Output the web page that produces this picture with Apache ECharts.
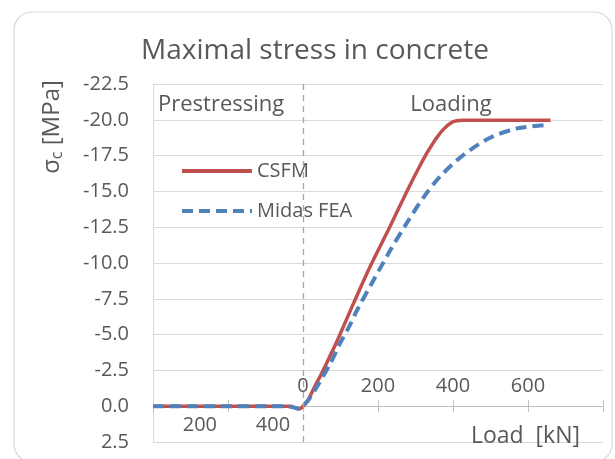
<!DOCTYPE html>
<html>
<head>
<meta charset="utf-8">
<script src="https://cdn.jsdelivr.net/npm/echarts@6/dist/echarts.min.js"></script>
<style>
  html, body { margin: 0; padding: 0; background: #ffffff; }
  #chart { width: 615px; height: 459px; }
</style>
</head>
<body>
<div id="chart"></div>
<script>
// Load axis: prestressing stage to the left of 0, loading stage to the right (kN)
const loadMin = -400;
const loadMax = 800;
const loadStep = 200;
const loadTickValues = [0, 200, 400, 600];
const loadTickLabels = ['0', '200', '400', '600'];

// Prestressing force labels written under the axis, left of the stage divider
const prestressLabelText = ['200', '400'];
const prestressLabelAt = [-275, -80];

// Stress axis (MPa, compression negative, drawn upward)
const stressMin = -22.5;
const stressMax = 2.5;
const stressStep = 2.5;

// CSFM results: [load, stress]
const csfmLoad = [-400, -40, -25, -12, -4, 0, 15, 30, 50, 70, 90, 110, 135, 180, 233, 277, 310, 331, 355, 375, 395, 410, 425, 660];
const csfmStress = [0, 0, 0.08, 0.18, 0.12, 0, -0.5, -1.3, -2.3, -3.4, -4.5, -5.7, -7.2, -9.8, -12.6, -15.0, -16.7, -17.7, -18.7, -19.35, -19.8, -19.93, -19.97, -19.97];

// Midas FEA results: [load, stress]
const midasLoad = [-400, -40, -25, -12, -4, 0, 15, 37, 73, 99, 122, 144, 188, 233, 277, 322, 366, 428, 499, 571, 642];
const midasStress = [0, 0, 0.08, 0.18, 0.12, 0, -0.45, -1.35, -3.0, -4.4, -5.5, -6.7, -8.8, -10.9, -12.8, -14.6, -16.05, -17.55, -18.75, -19.4, -19.62];

const pairs = (xs, ys) => xs.map((x, i) => [x, ys[i]]);

const FONT = 'Open Sans';
const TXT = '#595959';
const GRID_C = '#d9d9d9';
const AXIS_C = '#bfbfbf';
const RED = '#C0504D';
const BLUE = '#4F81BD';

const chart = echarts.init(document.getElementById('chart'), null, { renderer: 'canvas' });

const baseGraphics = [
  {
    type: 'rect',
    shape: { x: 14, y: 12, width: 598, height: 450, r: 18 },
    style: { fill: null, stroke: '#d9d9d9', lineWidth: 1.2 },
    silent: true,
    z: -10
  },
  {
    type: 'text',
    x: 315, y: 51,
    style: { text: 'Maximal stress in concrete', fontFamily: FONT, fontSize: 28, fill: TXT, textAlign: 'center', textVerticalAlign: 'middle' }
  },
  {
    type: 'text',
    x: 158, y: 105,
    style: { text: 'Prestressing', fontFamily: FONT, fontSize: 22, fill: TXT, textAlign: 'left', textVerticalAlign: 'middle' }
  },
  {
    type: 'text',
    x: 451, y: 105,
    style: { text: 'Loading', fontFamily: FONT, fontSize: 22, fill: TXT, textAlign: 'center', textVerticalAlign: 'middle' }
  },
  {
    type: 'text',
    x: 580, y: 436,
    style: { text: 'Load  [kN]', fontFamily: FONT, fontSize: 23, fill: TXT, textAlign: 'right', textVerticalAlign: 'middle' }
  },
  {
    type: 'text',
    x: 52, y: 127,
    rotation: Math.PI / 2,
    style: {
      text: '{s|σ}{sub|c}{s| [MPa]}',
      fontFamily: FONT,
      fill: TXT,
      align: 'center',
      verticalAlign: 'middle',
      rich: {
        s: { fontFamily: FONT, fontSize: 24, fill: TXT, color: TXT },
        sub: { fontFamily: FONT, fontSize: 16, fill: TXT, color: TXT, padding: [10, 0, 0, 0] }
      }
    }
  }
];

chart.setOption({
  animation: false,
  backgroundColor: '#ffffff',
  textStyle: { fontFamily: FONT, color: TXT },
  grid: { left: 153, right: 12, top: 84, bottom: 17, containLabel: false },
  xAxis: {
    type: 'value',
    position: 'bottom',
    min: loadMin,
    max: loadMax,
    interval: loadStep,
    axisLine: { show: true, onZero: true, lineStyle: { color: AXIS_C, width: 1 } },
    axisTick: { show: true, inside: false, length: 6, lineStyle: { color: AXIS_C } },
    axisLabel: { show: false },
    splitLine: { show: false }
  },
  yAxis: {
    type: 'value',
    inverse: true,
    min: stressMin,
    max: stressMax,
    interval: stressStep,
    axisLine: { show: true, onZero: false, lineStyle: { color: GRID_C, width: 1 } },
    axisTick: { show: false },
    axisLabel: {
      margin: 24,
      fontFamily: FONT,
      fontSize: 20,
      color: TXT,
      formatter: v => v.toFixed(1)
    },
    splitLine: { show: true, lineStyle: { color: GRID_C, width: 1 } }
  },
  legend: {
    orient: 'vertical',
    left: 180,
    top: 161,
    padding: 0,
    itemWidth: 70,
    itemHeight: 14,
    itemGap: 20,
    itemStyle: { opacity: 0 },
    lineStyle: { width: 4 },
    textStyle: { fontFamily: FONT, fontSize: 20, color: TXT, lineHeight: 20 },
    data: ['CSFM', 'Midas FEA']
  },
  series: [
    {
      name: 'CSFM',
      type: 'line',
      data: pairs(csfmLoad, csfmStress),
      smooth: 0.3,
      symbol: 'none',
      lineStyle: { color: RED, width: 3.5 },
      itemStyle: { color: RED },
      z: 3,
      markLine: {
        silent: true,
        symbol: 'none',
        label: { show: false },
        lineStyle: { color: '#a6a6a6', type: [6, 5], width: 1.3 },
        data: [[{ coord: [0, stressMin] }, { coord: [0, stressMax] }]]
      }
    },
    {
      name: 'Midas FEA',
      type: 'line',
      data: pairs(midasLoad, midasStress),
      smooth: 0.3,
      symbol: 'none',
      lineStyle: { color: BLUE, width: 4, type: [11, 6] },
      itemStyle: { color: BLUE },
      z: 4
    }
  ],
  graphic: baseGraphics
});

// Load tick labels sit above the zero line, prestressing labels below it;
// the upper halves of the cross ticks complete the axis. All placed through the axis scale.
const toPx = (x, y) => chart.convertToPixel({ xAxisIndex: 0, yAxisIndex: 0 }, [x, y]);
const extra = [];
loadTickValues.forEach((v, i) => {
  const p = toPx(v, 0);
  extra.push({
    type: 'text',
    x: p[0], y: p[1] - 20,
    style: { text: loadTickLabels[i], fontFamily: FONT, fontSize: 20, fill: TXT, textAlign: 'center', textVerticalAlign: 'middle' }
  });
});
prestressLabelText.forEach((t, i) => {
  const p = toPx(prestressLabelAt[i], 0);
  extra.push({
    type: 'text',
    x: p[0], y: p[1] + 19,
    style: { text: t, fontFamily: FONT, fontSize: 20, fill: TXT, textAlign: 'center', textVerticalAlign: 'middle' }
  });
});
for (let v = loadMin + loadStep; v <= loadMax; v += loadStep) {
  if (v === 0) continue;
  const p = toPx(v, 0);
  const x = Math.round(p[0]) + 0.5;
  extra.push({
    type: 'line',
    silent: true,
    shape: { x1: x, y1: p[1] - 6, x2: x, y2: p[1] },
    style: { stroke: AXIS_C, lineWidth: 1 }
  });
}
chart.setOption({ graphic: baseGraphics.concat(extra) }, { replaceMerge: ['graphic'] });
</script>
</body>
</html>
